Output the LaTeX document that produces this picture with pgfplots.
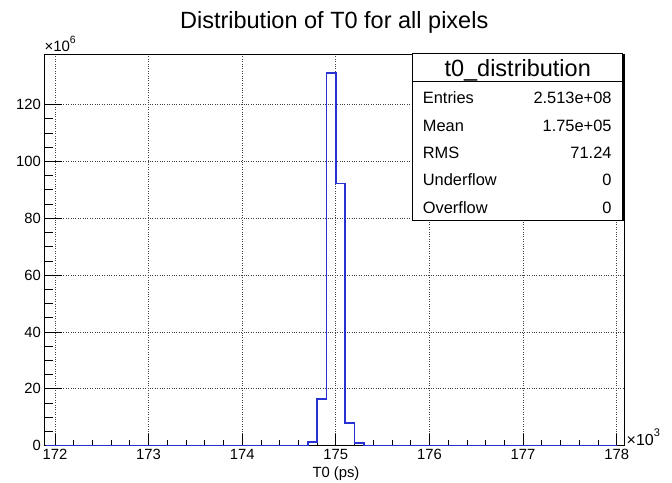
\documentclass[border=0pt]{standalone}
\usepackage{pgfplots}
\pgfplotsset{compat=1.18}
\usepackage{fontspec}
\setmainfont{Liberation Sans}
\definecolor{histblue}{RGB}{40,50,210}
\begin{document}
\begin{tikzpicture}[x=1pt,y=1pt]
\path[use as bounding box] (0,0) rectangle (672,482);
% main axis: grid, x ticks, labels
\begin{axis}[
  at={(44.3pt,36.3pt)}, anchor=south west,
  scale only axis, width=580pt, height=391.7pt,
  xmin=171.886, xmax=178.081, ymin=0, ymax=137.8,
  xtick={172,173,174,175,176,177,178}, minor x tick num=4,
  ytick={0,20,40,60,80,100,120},
  tick align=inside, xtick pos=bottom, ytick pos=left,
  grid=major,
  major grid style={dotted, black!75, line width=0.7pt},
  axis line style={line width=0.9pt},
  xtick style={black, line width=0.8pt},
  ytick style={draw=none},
  major tick length=12pt, minor tick length=6pt,
  tick label style={font=\fontsize{14.8}{17}\selectfont},
  /pgf/number format/assume math mode=true,
  /pgf/number format/1000 sep={},
  scaled ticks=false,
]
\end{axis}
% overlay axis: y ticks with their own lengths
\begin{axis}[
  at={(44.3pt,36.3pt)}, anchor=south west,
  scale only axis, width=580pt, height=391.7pt,
  xmin=171.886, xmax=178.081, ymin=0, ymax=137.8,
  hide x axis, axis y line*=left,
  ytick={0,20,40,60,80,100,120}, minor y tick num=3,
  yticklabels={},
  tick align=inside,
  axis line style={line width=0.9pt},
  ytick style={black, line width=0.8pt},
  major tick length=17.5pt, minor tick length=9pt,
]
\end{axis}
% multipliers
\node[anchor=base west, inner sep=0pt, font=\fontsize{15}{17}\selectfont] at (44.3,430)
  {×10\raisebox{0.55em}{\fontsize{10.5}{12}\selectfont 6}};
\node[anchor=base west, inner sep=0pt, font=\fontsize{16}{18}\selectfont] at (626.5,36.5)
  {×10\raisebox{0.55em}{\fontsize{11}{13}\selectfont 3}};
% title
\node[anchor=base, inner sep=0pt, font=\fontsize{23.5}{27}\selectfont] at (334.2,453.7)
  {Distribution of T0 for all pixels};
% x label
\node[anchor=base, inner sep=0pt, font=\fontsize{14.8}{17}\selectfont] at (336,5)
  {T0 (ps)};
% stats box
\fill[black] (414.2,260.5) rectangle (624.2,427.2);
\filldraw[fill=white, draw=black, line width=0.9pt] (412.7,262) rectangle (622.7,428.7);
\draw[line width=0.9pt] (412.7,400.3) -- (622.7,400.3);
\node[anchor=base, inner sep=0pt, font=\fontsize{23.5}{27}\selectfont] at (517.7,405.3)
  {t0\_distribution};
\begin{scope}[every node/.style={inner sep=0pt, font=\fontsize{16.4}{19}\selectfont}]
\node[anchor=base west] at (422.7,378) {Entries};
\node[anchor=base east] at (611.7,378) {2.513e+08};
\node[anchor=base west] at (422.7,350.5) {Mean};
\node[anchor=base east] at (611.7,350.5) {1.75e+05};
\node[anchor=base west] at (422.7,323) {RMS};
\node[anchor=base east] at (611.7,323) {71.24};
\node[anchor=base west] at (422.7,296) {Underflow};
\node[anchor=base east] at (611.7,296) {0};
\node[anchor=base west] at (422.7,268.7) {Overflow};
\node[anchor=base east] at (611.7,268.7) {0};
\end{scope}
% histogram axis, drawn last
\begin{axis}[
  at={(44.3pt,36.3pt)}, anchor=south west,
  scale only axis, width=580pt, height=391.7pt,
  xmin=171.886, xmax=178.081, ymin=0, ymax=137.8,
  hide axis,
]
\addplot[draw=histblue, line width=1.6pt, const plot, mark=none] coordinates {
  (171.9,0) (174.7,1.2) (174.8,16.4) (174.9,131.2) (175.0,92.3)
  (175.1,7.9) (175.2,0.9) (175.3,0) (178.0,0)
};
\end{axis}
\end{tikzpicture}
\end{document}
